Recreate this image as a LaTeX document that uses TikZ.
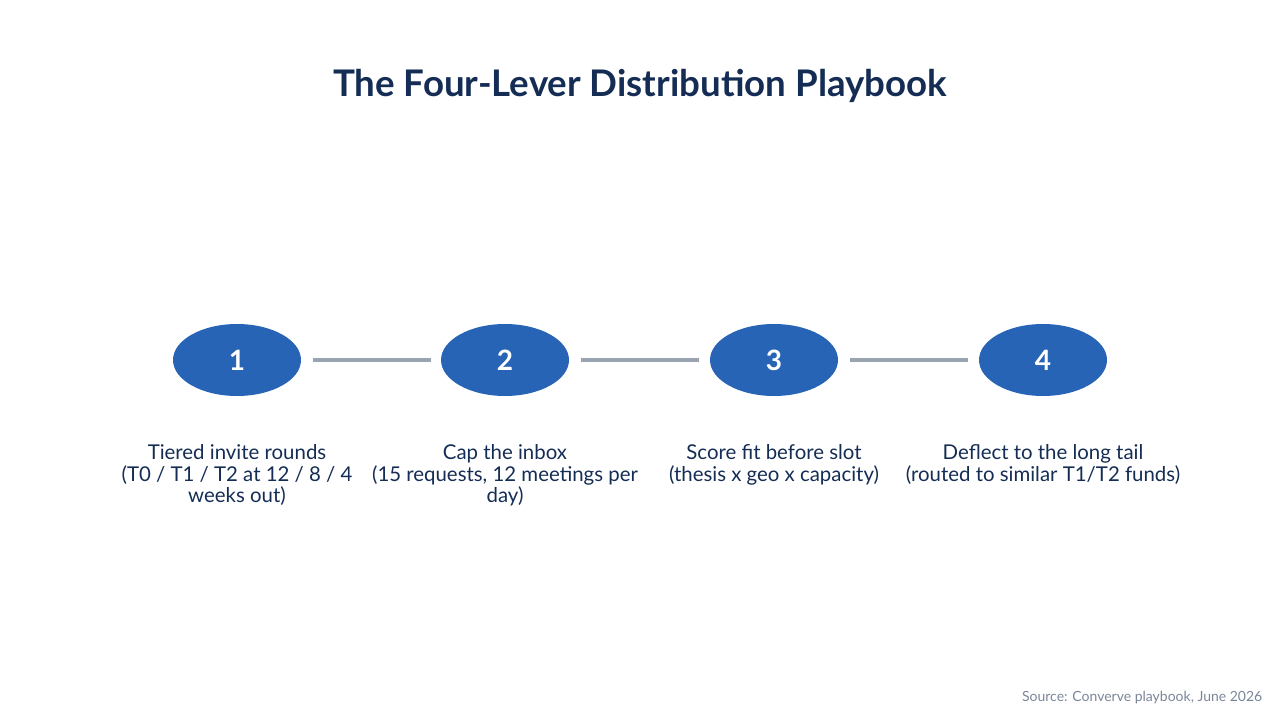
\documentclass[tikz,border=0pt]{standalone}
\usepackage{fontspec}
\setmainfont{Lato}
\usetikzlibrary{shapes.geometric}
\definecolor{navy}{HTML}{152D54}
\definecolor{blu}{HTML}{2864B6}
\definecolor{gry}{HTML}{9AA4B0}
\definecolor{src}{HTML}{7A8698}
\begin{document}
\begin{tikzpicture}[x=0.75pt,y=-0.75pt,
  lever/.style={ellipse,fill=blu,minimum width=96pt,minimum height=54pt,inner sep=0pt,text=white,font=\bfseries\fontsize{21}{24}\selectfont},
  lab/.style={text=navy,align=center,font=\fontsize{15.3}{16}\selectfont,anchor=north},
  link/.style={gry,line width=2.4pt}]
\useasboundingbox (0,0) rectangle (1280,720);
\node[text=navy,font=\bfseries\fontsize{27.5}{30}\selectfont] (title) at (640,86) {The Four-Lever Distribution Playbook};
\node[lever] (s1) at (237,360) {1};
\node[lever] (s2) at (505,360) {2};
\node[lever] (s3) at (774,360) {3};
\node[lever] (s4) at (1043,360) {4};
\draw[link] (313,360) coordinate (a1) -- (431,360) coordinate (b1);
\draw[link] (581,360) coordinate (a2) -- (699,360) coordinate (b2);
\draw[link] (850,360) coordinate (a3) -- (968,360) coordinate (b3);
\node[lab] (l1) at (237,440) {Tiered invite rounds\\(T0 / T1 / T2 at 12 / 8 / 4\\weeks out)};
\node[lab] (l2) at (505,440) {Cap the inbox\\(15 requests, 12 meetings per\\day)};
\node[lab] (l3) at (774,440) {Score fit before slot\\(thesis x geo x capacity)};
\node[lab] (l4) at (1043,440) {Deflect to the long tail\\(routed to similar T1/T2 funds)};
\node[text=src,anchor=east,font=\fontsize{10.5}{12}\selectfont] (src) at (1267,698) {Source: Converve playbook, June 2026};
\end{tikzpicture}
\end{document}
